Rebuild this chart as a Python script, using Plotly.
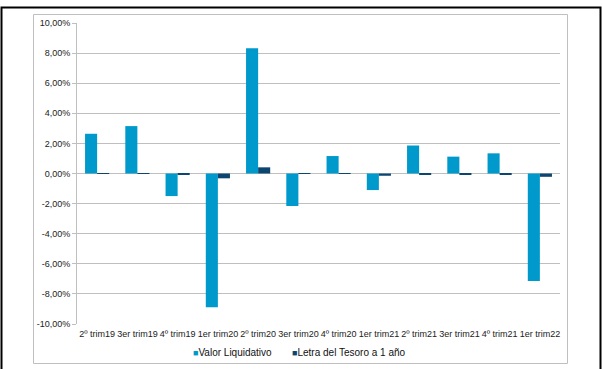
import plotly.graph_objects as go

categories = ["2º trim19", "3er trim19", "4º trim19", "1er trim20", "2º trim20", "3er trim20",
              "4º trim20", "1er trim21", "2º trim21", "3er trim21", "4º trim21", "1er trim22"]
valor_liquidativo = [2.64, 3.15, -1.50, -8.88, 8.33, -2.16, 1.16, -1.10, 1.86, 1.12, 1.34, -7.15]
letra_tesoro = [-0.03, -0.03, -0.05, -0.32, 0.41, -0.02, -0.03, -0.15, -0.10, -0.07, -0.10, -0.22]
series_names = ["Valor Liquidativo", "Letra del Tesoro a 1 año"]
y_ticks = [-10, -8, -6, -4, -2, 0, 2, 4, 6, 8, 10]
y_tick_labels = [f"{v:.2f}%".replace(".", ",") for v in y_ticks]

LIGHT = "#0099cc"
DARK = "#0c4670"
FONT = "Liberation Sans, Arial, sans-serif"

W, H = 602, 369
L, R, T, B = 77, 42, 23, 45
PW, PH = W - L - R, H - T - B


def px(x):
    return (x - L) / PW


def py(y):
    return (H - B - y) / PH


fig = go.Figure()
fig.add_bar(x=categories, y=valor_liquidativo, name=series_names[0],
            marker=dict(color=LIGHT, line=dict(width=0)), showlegend=False)
fig.add_bar(x=categories, y=letra_tesoro, name=series_names[1],
            marker=dict(color=DARK, line=dict(width=0)), showlegend=False)

shapes = [
    # outer frame (its bottom edge runs past the page)
    dict(type="rect", xref="paper", yref="paper", x0=px(1.5), x1=px(600.5),
         y0=py(375), y1=py(7.5), line=dict(color="black", width=2), layer="below"),
    # chart area frame
    dict(type="rect", xref="paper", yref="paper", x0=px(33.5), x1=px(567.5),
         y0=py(363.5), y1=py(14.5), line=dict(color="#bfbfbf", width=1), layer="below"),
]

# compact legend: small coloured square followed by the series name
annotations = []
for name, col, x_left in zip(series_names, [LIGHT, DARK], [191, 290]):
    annotations.append(dict(
        xref="paper", yref="paper", x=px(x_left), y=py(352),
        xanchor="left", yanchor="middle", showarrow=False,
        text=f'<span style="color:{col};font-size:9px">■</span>{name}',
        font=dict(size=10, color="#111111", family=FONT),
    ))

fig.update_layout(
    width=W, height=H,
    margin=dict(l=L, r=R, t=T, b=B, autoexpand=False),
    paper_bgcolor="white", plot_bgcolor="white",
    separators=",.",
    barmode="group", bargap=0.4, bargroupgap=0,
    font=dict(family=FONT, size=9, color="#222222"),
    shapes=shapes,
    annotations=annotations,
    showlegend=False,
    xaxis=dict(showgrid=False, showline=False, ticks="", tickfont=dict(size=9),
               tickangle=0, automargin=False, ticklabelstandoff=3),
    yaxis=dict(range=[-10, 10], tickvals=y_ticks, ticktext=y_tick_labels,
               showgrid=True, gridcolor="#bfbfbf", gridwidth=1,
               zeroline=True, zerolinecolor="#bfbfbf", zerolinewidth=1,
               showline=True, linecolor="#bfbfbf", linewidth=1,
               ticks="outside", ticklen=4, tickcolor="#bfbfbf",
               tickfont=dict(size=9), automargin=False),
)

fig.write_html("out.html")
